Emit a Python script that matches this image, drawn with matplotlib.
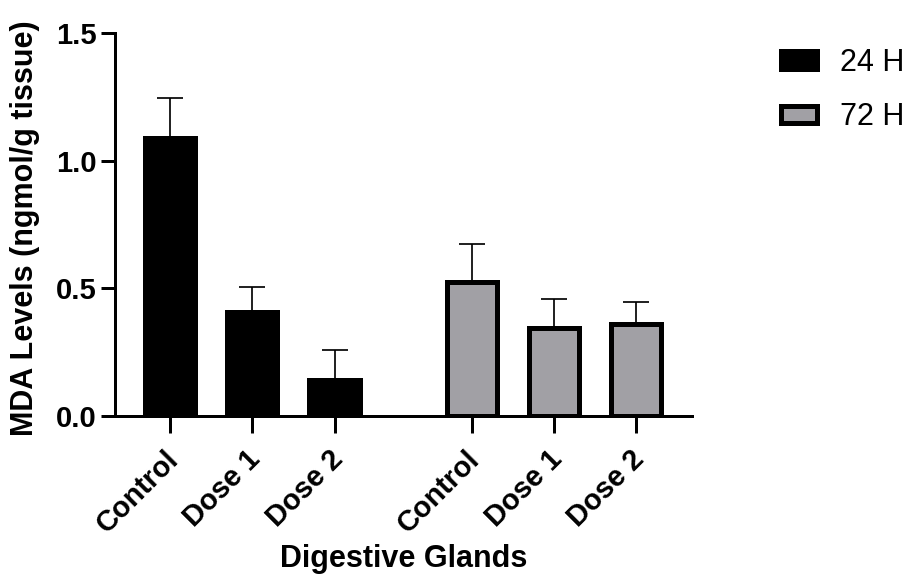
import matplotlib
matplotlib.use("Agg")
import matplotlib.pyplot as plt
import matplotlib.patches as mpatches
import matplotlib.transforms as mtransforms
import numpy as np

plt.rcParams['font.family'] = ['Liberation Sans', 'DejaVu Sans']

# ---- data ----
categories = ["Control", "Dose 1", "Dose 2", "Control", "Dose 1", "Dose 2"]
series_names = ["24 H", "72 H"]
mean_24h = [1.088, 0.406, 0.140]
err_24h = [0.160, 0.098, 0.119]
mean_72h = [0.527, 0.345, 0.362]
err_72h = [0.146, 0.114, 0.083]
y_ticks = [0.0, 0.5, 1.0, 1.5]
y_tick_labels = ["0.0", "0.5", "1.0", "1.5"]

pos_24h = np.array([0.0, 1.0, 2.0])
pos_72h = np.array([3.67, 4.67, 5.67])

gray = '#a1a0a5'
lw_px = 5.0
px = 72.0 / 100.0  # points per pixel at dpi 100

fig = plt.figure(figsize=(9.09, 5.74), dpi=100)
ax = fig.add_axes([114.7 / 909, (574 - 416) / 574, (692 - 114.7) / 909, (416 - 33.3) / 574])

bw = 0.61
ax.bar(pos_24h, mean_24h, width=bw, color='black', edgecolor='black', linewidth=lw_px * px, zorder=2, label=series_names[0])
ax.bar(pos_72h, mean_72h, width=bw, color=gray, edgecolor='black', linewidth=lw_px * px, zorder=2, label=series_names[1])

for p, m, e in [(pos_24h, mean_24h, err_24h), (pos_72h, mean_72h, err_72h)]:
    ax.errorbar(p, m, yerr=[np.zeros(len(e)), e], fmt='none', ecolor='black',
                elinewidth=1.7 * px, capsize=13.5 * px, capthick=1.7 * px, zorder=1)

ax.set_ylim(0, 1.5)
ax.set_xlim(-0.675, 6.35)
ax.set_yticks(y_ticks)
ax.set_yticklabels(y_tick_labels, fontsize=21, fontweight='bold')
xpos = np.concatenate([pos_24h, pos_72h])
ax.set_xticks(xpos)
ax.set_xticklabels([])

# rotated category labels, anchored below each tick
off = mtransforms.ScaledTranslation(-6 / 100.0, -29 / 100.0, fig.dpi_scale_trans)
for xp, lab in zip(xpos, categories):
    ax.text(xp, 0, lab, transform=ax.get_xaxis_transform() + off, fontsize=21,
            fontweight='bold', rotation=45, ha='right', va='top',
            rotation_mode='anchor', clip_on=False)

for s in ['top', 'right']:
    ax.spines[s].set_visible(False)
for s in ['left', 'bottom']:
    ax.spines[s].set_linewidth(3 * px)
ax.tick_params(axis='y', length=14 * px, width=3 * px, pad=3)
ax.tick_params(axis='x', length=17 * px, width=3 * px, pad=9)

ax.set_ylabel("MDA Levels (ngmol/g tissue)", fontsize=22, fontweight='bold')
ax.yaxis.set_label_coords(-0.13, 0.49)
ax.set_xlabel("Digestive Glands", fontsize=22, fontweight='bold', va='top')
ax.xaxis.set_label_coords(0.5, -0.335)

handles = [mpatches.Patch(facecolor='black', edgecolor='black', linewidth=lw_px * px),
           mpatches.Patch(facecolor=gray, edgecolor='black', linewidth=lw_px * px)]
fig.legend(handles, series_names, loc='upper left', bbox_to_anchor=(780.5 / 909, 1 - 48 / 574),
           frameon=False, fontsize=22, handlelength=1.18, handleheight=0.5,
           handletextpad=0.78, labelspacing=0.8, borderpad=0, borderaxespad=0)

fig.savefig("out.png", dpi=100)
